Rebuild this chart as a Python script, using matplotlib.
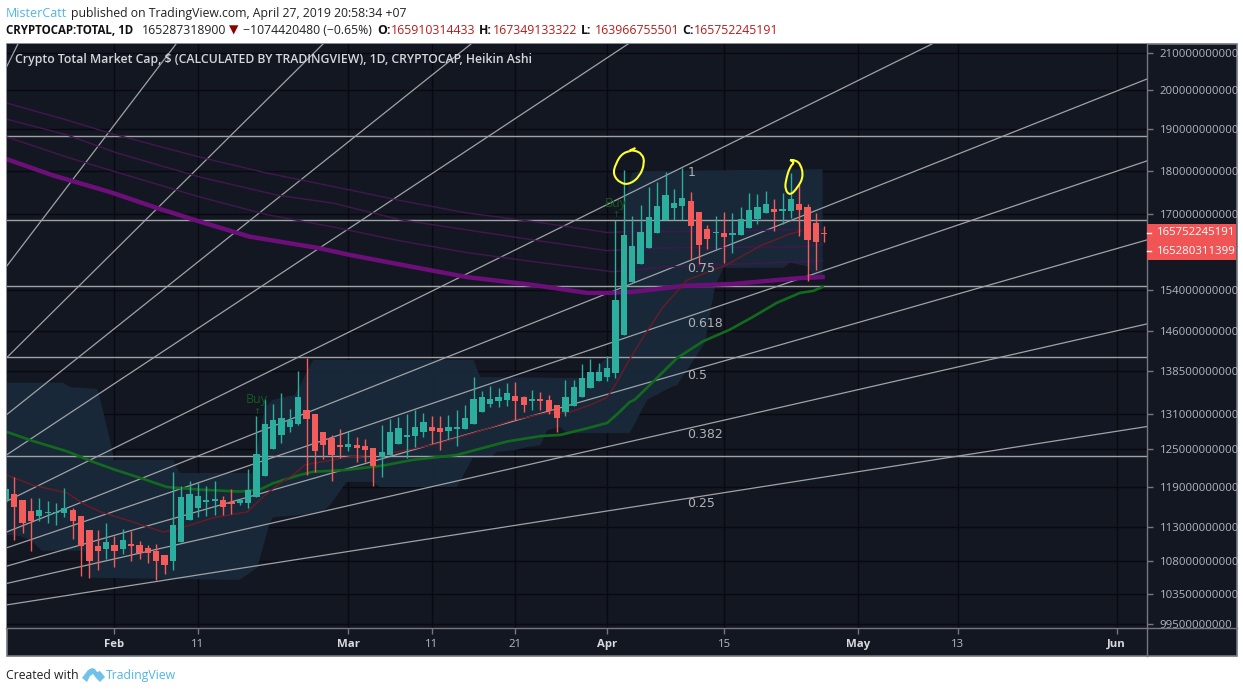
#!/usr/bin/env python3
# plot.py - crypto total market cap, heikin ashi daily with fan and MAs
import numpy as np
import matplotlib
matplotlib.use('Agg')
import matplotlib.pyplot as plt
from matplotlib.patches import Rectangle, Polygon, PathPatch
from matplotlib.path import Path
from matplotlib.lines import Line2D
from matplotlib.transforms import Bbox

# ---------- data ----------
# prices are in billions, x is days from Feb 1 2019
first_day = -13
opens = [116.9, 117.9, 117.0, 115.3, 114.6, 115.0, 115.0, 115.1, 115.5, 114.6,
         112.5, 110.2, 109.8, 110.3, 109.8, 110.4, 110.3, 109.9, 109.4, 108.9,
         108.1, 110.7, 114.0, 115.8, 116.7, 116.8, 117.0, 116.6, 116.5, 116.5,
         117.5, 120.8, 125.0, 127.4, 128.7, 129.3, 131.6, 131.0, 127.9, 126.9,
         125.6, 125.4, 125.7, 125.5, 125.2, 123.8, 124.1, 125.9, 127.1, 127.2,
         127.9, 128.7, 128.5, 128.0, 128.4, 128.4, 129.3, 131.3, 132.6, 133.1,
         133.4, 134.1, 133.8, 133.1, 133.4, 133.4, 132.5, 131.3, 132.3, 133.9,
         135.5, 136.7, 137.4, 138.2, 145.2, 155.6, 159.2, 162.6, 165.9, 168.8,
         171.4, 171.9, 173.0, 170.4, 166.8, 165.8, 165.9, 165.5, 165.5, 167.0,
         169.0, 170.2, 171.2, 170.8, 170.8, 172.4, 171.7, 168.1, 165.9]
closes = [118.7, 116.0, 113.6, 113.9, 115.5, 115.2, 115.2, 115.8, 113.8, 110.2,
          108.0, 109.5, 110.7, 109.5, 111.0, 110.2, 109.2, 109.1, 108.1, 107.4,
          113.2, 117.5, 117.9, 117.6, 116.9, 117.2, 116.0, 116.4, 117.0, 118.5,
          124.3, 129.2, 129.9, 130.2, 129.9, 133.9, 130.0, 124.8, 125.8, 124.1,
          125.4, 125.9, 125.3, 124.9, 122.4, 124.6, 127.9, 128.5, 127.4, 128.7,
          129.5, 128.0, 127.9, 128.7, 128.7, 130.2, 133.6, 133.8, 133.6, 133.9,
          134.6, 133.2, 132.5, 133.6, 133.2, 131.4, 130.2, 133.8, 135.6, 137.3,
          138.3, 138.3, 139.1, 152.0, 165.5, 163.0, 166.1, 169.5, 171.9, 174.3,
          172.5, 173.7, 167.5, 163.4, 164.6, 166.1, 165.1, 165.8, 169.0, 171.0,
          171.7, 172.4, 170.4, 171.2, 173.4, 171.0, 164.4, 163.9, 165.6]
highs = [119.0, 120.5, 117.0, 117.3, 117.3, 116.9, 116.6, 118.8, 115.8, 114.6,
         112.5, 112.5, 113.6, 111.6, 112.6, 112.3, 110.9, 110.3, 110.4, 108.9,
         121.3, 119.1, 120.0, 119.6, 119.1, 120.0, 117.6, 118.7, 117.2, 121.8,
         130.6, 133.5, 132.7, 134.5, 131.8, 138.5, 140.8, 131.0, 127.9, 127.4,
         128.4, 128.0, 127.0, 126.7, 125.2, 129.0, 130.0, 130.5, 131.0, 131.7,
         131.1, 130.6, 130.6, 130.8, 131.7, 132.5, 137.4, 135.0, 135.8, 135.5,
         136.4, 136.6, 134.1, 135.1, 134.8, 134.2, 132.5, 136.9, 136.9, 139.8,
         140.7, 140.0, 141.2, 168.8, 180.1, 169.7, 172.1, 176.1, 177.4, 179.6,
         175.7, 180.5, 175.1, 170.4, 167.7, 169.6, 170.6, 170.2, 171.7, 174.7,
         174.5, 175.3, 173.4, 174.8, 179.4, 176.9, 172.4, 170.2, 167.5]
lows = [116.7, 111.0, 112.1, 109.5, 113.9, 113.5, 113.2, 114.5, 111.2, 105.9,
        105.6, 106.8, 108.3, 107.2, 109.0, 108.0, 108.3, 107.8, 105.4, 106.2,
        106.8, 110.7, 114.0, 114.4, 114.6, 114.8, 114.8, 114.9, 116.3, 115.8,
        117.5, 120.8, 125.0, 126.0, 127.8, 129.0, 120.9, 121.4, 123.5, 119.9,
        123.6, 124.7, 123.0, 123.0, 119.1, 120.5, 124.1, 125.9, 123.6, 125.4,
        127.0, 125.9, 124.9, 126.8, 125.5, 128.4, 129.3, 131.3, 132.1, 132.2,
        132.3, 129.9, 131.3, 131.6, 131.6, 131.0, 127.9, 130.6, 132.3, 133.9,
        135.5, 136.7, 136.7, 137.2, 145.2, 155.6, 159.2, 162.6, 165.9, 168.8,
        168.8, 168.8, 160.2, 159.2, 162.5, 162.3, 159.6, 161.7, 165.5, 167.0,
        167.9, 170.2, 166.3, 167.9, 169.1, 165.3, 155.8, 158.1, 164.0]

ma_thick_x = [-12.9, -7.4, -0.5, 5.1, 10.2, 16.2, 24.3, 28.2, 34.2, 42.2, 50.1, 56.6, 59.3, 62.1, 68.1, 74.1, 82.1, 84.8]
ma_thick_y = [182.7, 178.9, 175.0, 171.4, 168.4, 165.1, 162.7, 161.2, 159.2, 156.6, 155.0, 153.4, 153.4, 153.6, 154.8, 155.2, 156.4, 156.6]
ma_a_x = [-12.9, -5.7, -0.5, 10.2, 18.3, 28.2, 34.2, 42.2, 50.1, 59.0, 62.1, 68.1, 82.1, 84.8]
ma_a_y = [196.6, 192.3, 189.0, 183.2, 179.4, 175.5, 173.1, 170.3, 168.4, 166.0, 166.2, 166.2, 166.6, 166.6]
ma_b_x = [-12.9, -5.7, 0.3, 10.2, 19.5, 26.2, 34.2, 50.1, 59.0, 66.2, 82.1, 84.8]
ma_b_y = [192.5, 188.6, 184.2, 178.5, 174.3, 172.5, 168.8, 164.4, 162.1, 162.7, 162.9, 163.4]
ma_c_x = [-12.9, -5.7, 0.3, 10.2, 18.3, 26.2, 34.2, 42.2, 50.1, 59.7, 66.2, 82.1, 84.8]
ma_c_y = [188.1, 183.2, 179.6, 173.9, 169.9, 167.2, 164.2, 161.7, 159.8, 157.7, 158.7, 159.8, 160.0]

green_x = [-12.9, -9.8, -5.7, -2.6, 0.1, 3.4, 6.3, 10.2, 15.0, 17.4, 19.0, 22.2, 23.8, 27.8, 32.2, 35.7, 41.0,
           47.0, 51.0, 53.4, 56.6, 59.0, 60.5, 61.7, 62.3, 65.0, 67.4, 70.5, 73.7, 76.5, 79.3, 82.1, 83.7, 84.8]
green_y = [127.9, 126.4, 124.7, 123.0, 121.7, 120.3, 119.0, 118.6, 118.3, 118.6, 119.6, 120.9, 121.4, 121.7, 122.4, 123.3, 124.1,
           126.3, 127.2, 127.4, 128.5, 129.4, 131.3, 133.0, 133.4, 137.3, 140.9, 144.0, 146.2, 148.7, 151.4, 153.4, 153.8, 154.6]
red_x = [-12.9, -9.8, -5.7, -3.8, -1.7, 2.2, 5.8, 8.2, 11.8, 15.9, 17.8, 19.8, 21.4, 22.8, 28.2, 31.8, 35.0,
         38.6, 43.0, 47.7, 51.8, 54.2, 57.0, 59.0, 60.2, 61.7, 63.9, 65.7, 68.6, 73.4, 77.3, 80.9, 82.3]
red_y = [120.9, 119.3, 118.1, 116.5, 115.2, 113.7, 112.2, 112.9, 114.3, 115.2, 117.5, 119.6, 120.9, 122.5, 123.8, 124.1, 124.9,
         125.9, 127.7, 129.9, 131.1, 131.1, 132.5, 133.8, 136.6, 140.7, 146.2, 150.6, 156.0, 159.2, 163.1, 165.7, 166.4]

cloud_top_x = [-12.9, -6.2, -5.3, -2.1, -1.7, -0.4, -0.1, 7.0, 7.8, 16.5, 18.0, 19.0, 21.6, 23.8, 43.0, 43.8, 57.0, 58.6, 59.8, 60.5, 61.1, 62.0, 62.9, 84.8]
cloud_top_y = [136.4, 136.4, 135.6, 135.3, 133.4, 125.7, 123.3, 123.3, 121.2, 121.2, 132.1, 133.4, 134.2, 140.5, 140.5, 137.4, 137.2, 140.5, 140.9, 152.0, 173.2, 179.4, 179.9, 180.3]
cloud_bot_x = [-12.9, -11.7, -10.1, -8.7, -3.5, -2.9, 15.0, 17.1, 18.6, 19.0, 24.6, 25.8, 27.8, 31.0, 31.8, 41.0, 42.9, 45.0, 45.8, 48.0,
               49.4, 51.0, 51.8, 53.4, 54.2, 61.7, 63.8, 66.5, 67.4, 70.7, 71.9, 72.9, 80.1, 80.9, 83.0, 83.9, 84.8]
cloud_bot_y = [111.8, 111.7, 111.1, 109.5, 109.5, 105.7, 105.4, 107.1, 113.6, 114.4, 115.0, 116.2, 119.8, 119.8, 119.0, 119.0, 123.6, 123.6, 124.6, 124.9,
               125.4, 125.7, 128.2, 128.7, 127.7, 127.7, 133.4, 135.5, 136.0, 143.7, 154.6, 158.5, 158.5, 159.6, 158.8, 156.0, 156.4]

# fan lines: start day, start price, end day, end price
fan_x0 = [-12.93] * 11
fan_y0 = [206.1, 158.8, 140.9, 130.8, 124.1, 116.8, 112.2, 109.9, 107.3, 104.9, 102.0]
fan_x1 = [-11.56, 7.37, 24.97, 42.69, 61.5, 97.9, 123.65, 123.65, 123.65, 123.65, 123.65]
fan_y1 = [212.4, 212.4, 212.4, 212.4, 212.4, 212.4, 202.9, 182.3, 164.4, 147.3, 128.8]
fib_labels = ['1', '0.75', '0.618', '0.5', '0.382', '0.25']
fib_label_y = [179.6, 158.3, 147.3, 137.6, 127.5, 116.4]
fib_label_x = 68.6

hlines = [188.3, 168.7, 154.7, 141.0, 123.9]

circle1_x = [61.7, 60.9, 60.0, 59.7, 60.6, 61.7, 62.9, 63.5, 63.2, 62.2, 61.5, 62.4]
circle1_y = [184.6, 184.4, 181.6, 179.0, 177.0, 176.8, 178.6, 181.8, 184.0, 184.9, 184.6, 185.4]
circle2_x = [80.9, 81.5, 80.9, 80.4, 80.3, 80.9, 81.8, 82.5, 82.2, 81.5, 80.9]
circle2_y = [182.5, 182.0, 181.0, 177.8, 175.6, 174.2, 176.0, 178.5, 181.5, 182.5, 182.5]

buy_x = [17, 60]
buy_text_y = [133.4, 172.5]
buy_arrow_y = [131.4, 170.0]

y_ticks = [99.5, 103.5, 108, 113, 119, 125, 131, 138.5, 146, 154, 170, 180, 190, 200, 210]
x_ticks = [0, 10, 28, 38, 48, 59, 73, 89, 101, 120]
x_labels = ['Feb', '11', 'Mar', '11', '21', 'Apr', '15', 'May', '13', 'Jun']
last_prices = ['165752245191', '165280311399']

# ---------- layout / colours ----------
W, H = 1243, 693
BG = '#131722'
GRID = '#090a0f'
EDGE = '#74777f'
TXT = '#b4b7be'
UP = '#2bae9e'
DOWN = '#f45b5b'
FAN = '#a0a2a6'
SANS = ['Open Sans', 'DejaVu Sans']
plt.rcParams['font.family'] = SANS

fig = plt.figure(figsize=(W / 100, H / 100), dpi=100, facecolor='white')

def ftext(x, y, s, **kw):
    kw.setdefault('va', 'center')
    return fig.text(x / W, 1 - y / H, s, **kw)

def frect(x0, y0, x1, y1, **kw):
    fig.add_artist(Rectangle((x0 / W, 1 - y1 / H), (x1 - x0) / W, (y1 - y0) / H,
                             transform=fig.transFigure, **kw))

def fline(x0, y0, x1, y1, **kw):
    fig.add_artist(Line2D([x0 / W, x1 / W], [1 - y0 / H, 1 - y1 / H], transform=fig.transFigure, **kw))

def scribble(xs, ys):
    # hand drawn ring, rounded with quadratic segments through the midpoints
    pts = np.column_stack([xs, ys])
    mids = (pts[:-1] + pts[1:]) / 2
    verts, codes = [pts[0]], [Path.MOVETO]
    for ctrl, mid in zip(pts[1:-1], mids[1:]):
        verts += [ctrl, mid]
        codes += [Path.CURVE3, Path.CURVE3]
    verts.append(pts[-1])
    codes.append(Path.LINETO)
    ax.add_patch(PathPatch(Path(verts, codes), fill=False, edgecolor='#ffff33', lw=1.5, zorder=6))

frect(6.5, 44, 1236.5, 656, facecolor=BG, edgecolor=EDGE, lw=1.2, zorder=-1)

ax = fig.add_axes([6.5 / W, 1 - 628 / H, (1147 - 6.5) / W, (628 - 44) / H], facecolor=BG)
ax.set_yscale('log')
ax.set_xlim(-12.93, 123.65)
ax.set_ylim(98.97, 212.4)

# ---------- plotting ----------
ax.fill(cloud_top_x + cloud_bot_x[::-1], cloud_top_y + cloud_bot_y[::-1],
        facecolor='#192b3b', alpha=0.9, edgecolor='none', zorder=1)

for x0, y0, x1, y1 in zip(fan_x0, fan_y0, fan_x1, fan_y1):
    ax.plot([x0, x1], [y0, y1], color=FAN, lw=0.9, zorder=2)
for h in hlines:
    ax.axhline(h, color=FAN, lw=1, zorder=2)

ax.plot(ma_a_x, ma_a_y, color='#42174f', lw=1, zorder=3)
ax.plot(ma_b_x, ma_b_y, color='#42174f', lw=1, zorder=3)
ax.plot(ma_c_x, ma_c_y, color='#42174f', lw=1, zorder=3)
ax.plot(ma_thick_x, ma_thick_y, color='#6c0f78', lw=3.2, zorder=3)
ax.plot(green_x, green_y, color='#126b1c', lw=1.9, zorder=3)
ax.plot(red_x, red_y, color='#6d1a26', lw=1, zorder=3)

days = np.arange(first_day, first_day + len(opens))
o, h_, l, c = map(np.array, (opens, highs, lows, closes))
colors = [UP if cc >= oo else DOWN for oo, cc in zip(o, c)]
ax.vlines(days, l, h_, colors=colors, lw=1, zorder=4)
body_low = np.minimum(o, c)
body_h = np.abs(c - o)
ax.bar(days, np.maximum(body_h, 0.25), bottom=body_low, width=0.75, color=colors, lw=0, zorder=5)

scribble(circle1_x, circle1_y)
scribble(circle2_x, circle2_y)

for bx, by, ay in zip(buy_x, buy_text_y, buy_arrow_y):
    ax.text(bx, by, 'Buy', color='#135a1e', fontsize=9, ha='center', va='center', zorder=6)
    ax.text(bx, ay, '↑', color='#135a1e', fontsize=6, ha='center', va='center', zorder=6, family='DejaVu Sans')

for lab, yv in zip(fib_labels, fib_label_y):
    ax.text(fib_label_x, yv, lab, color='#b0b2b6', fontsize=9, va='center', zorder=6, family='DejaVu Sans')

ax.text(0.0075, 0.973, 'Crypto Total Market Cap, $ (CALCULATED BY TRADINGVIEW), 1D, CRYPTOCAP, Heikin Ashi',
        transform=ax.transAxes, color='#d4d6da', fontsize=8.85, va='center', fontweight='semibold', zorder=7)

# ---------- axes ----------
ax.yaxis.tick_right()
ax.set_yticks(y_ticks, [str(int(v * 1e9)) for v in y_ticks])
ax.set_yticks([], minor=True)
ax.set_xticks(x_ticks, x_labels)
ax.grid(True, color=GRID, lw=1)
ax.set_axisbelow(True)
ax.tick_params(axis='y', length=4, width=1, color=EDGE, labelcolor=TXT, labelsize=8.2, pad=5)
ax.tick_params(axis='x', length=4, width=1, color=EDGE, labelcolor=TXT, labelsize=8.2, pad=4)
for tl, name in zip(ax.get_xticklabels(), x_labels):
    if name.isalpha():
        tl.set_fontweight('bold')
        tl.set_color('#d8dadd')
clip = Bbox([[1147, 693 - 628], [1243, 693 - 44]])
for tl in ax.get_yticklabels():
    tl.set_clip_on(True)
    tl.set_clip_box(clip)
for side in ('top', 'left'):
    ax.spines[side].set_visible(False)
for side in ('right', 'bottom'):
    ax.spines[side].set_color(EDGE)
    ax.spines[side].set_linewidth(1)
fline(1147, 628, 1236.5, 628, color=EDGE, lw=1)
fline(1147, 628, 1147, 656, color=EDGE, lw=1)

# last price boxes
frect(1147, 224, 1236, 241.5, facecolor='#f05454', edgecolor='none', zorder=4)
frect(1147, 242.5, 1236, 260, facecolor='#f05454', edgecolor='none', zorder=4)
fline(1147, 233, 1151, 233, color='white', lw=1, zorder=5)
fline(1147, 251, 1151, 251, color='white', lw=1, zorder=5)
ftext(1157, 232.8, last_prices[0], color='white', fontsize=8.2, zorder=5)
ftext(1157, 251, last_prices[1], color='white', fontsize=8.2, zorder=5)

# ---------- header / footer ----------
BLUE = '#4db6ec'
DRED = '#b71c1c'
ftext(6, 13.5, 'MisterCatt', color=BLUE, fontsize=9)
ftext(71, 13.5, 'published on TradingView.com, April 27, 2019 20:58:34 +07', color='#222222', fontsize=8.8)
ftext(6, 30, 'CRYPTOCAP:TOTAL, 1D', color='#111111', fontsize=8.3, fontweight='bold')
ftext(142, 30, '165287318900', color='#222222', fontsize=8.8)
ftext(229, 30, '▼', color='#8b0000', fontsize=8.8, family='DejaVu Sans')
ftext(243, 30, '−1074420480 (−0.65%)', color='#222222', fontsize=8.8)
for x0, x1, key, val in [(377, 391, 'O:', '165910314433'), (479, 493, 'H:', '167349133322'),
                         (581, 595, 'L:', '163966755501'), (682, 694, 'C:', '165752245191')]:
    ftext(x0, 30, key, color='#111111', fontsize=8.8, fontweight='bold')
    ftext(x1, 30, val, color=DRED, fontsize=8.8)
ftext(6, 675.5, 'Created with', color='#222222', fontsize=8.8)
logo_x = [82, 88, 92, 95, 97, 100, 105, 100, 96, 93, 90, 87]
logo_y = [678, 670, 668, 669, 672, 671, 677, 682, 678, 674, 676, 682]
fig.add_artist(Polygon(np.column_stack([np.array(logo_x) / W, 1 - np.array(logo_y) / H]), closed=True,
                       transform=fig.transFigure, facecolor='#6fc3ea', edgecolor='none'))
ftext(106, 675.5, 'TradingView', color=BLUE, fontsize=8.8)

fig.savefig('out.png', dpi=100, facecolor='white')
